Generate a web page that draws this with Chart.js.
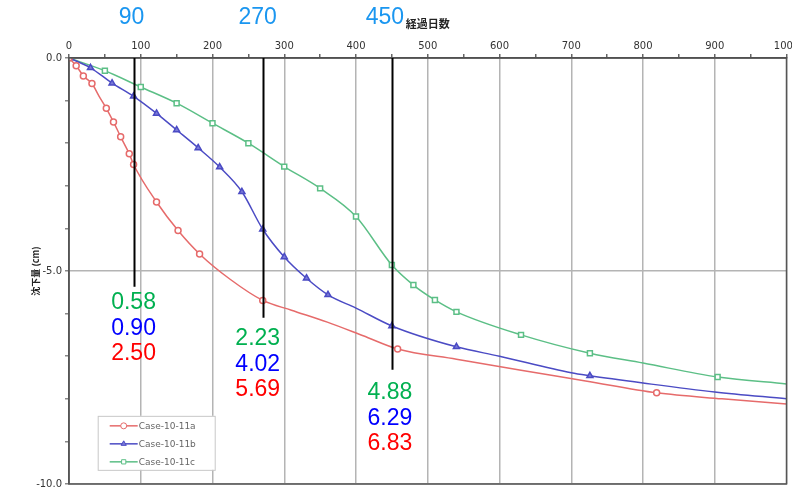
<!DOCTYPE html>
<html>
<head>
<meta charset="utf-8">
<script src="https://cdn.jsdelivr.net/npm/chart.js@4.4.1/dist/chart.umd.min.js"></script>
<style>
  html, body { margin: 0; padding: 0; background: #fff; }
  #wrap { width: 792px; height: 492px; }
</style>
</head>
<body>
<div id="wrap"><canvas id="settleChart" width="792" height="492"></canvas></div>
<script>
// 経過日数 (days) / 沈下量 (cm)
const daysA = [0, 10, 20, 32, 42, 52, 62, 72, 84, 90, 122, 152, 182, 225, 270, 310, 360, 410, 458, 540, 630, 720, 819, 910, 1000];
const caseA = [0, -0.18, -0.42, -0.6, -0.9, -1.18, -1.5, -1.85, -2.25, -2.5, -3.38, -4.05, -4.6, -5.2, -5.69, -5.92, -6.2, -6.52, -6.83, -7.07, -7.33, -7.58, -7.86, -8.0, -8.12];
const markA = [1, 1, 1, 1, 0, 1, 1, 1, 1, 1, 1, 1, 1, 0, 1, 0, 0, 0, 1, 0, 0, 0, 1, 0, 0];

const daysB = [0, 30, 60, 90, 122, 150, 180, 210, 241, 270, 300, 331, 361, 400, 450, 540, 600, 700, 726, 800, 900, 1000];
const caseB = [0, -0.23, -0.59, -0.9, -1.3, -1.69, -2.11, -2.56, -3.14, -4.02, -4.67, -5.17, -5.56, -5.87, -6.29, -6.78, -7.0, -7.39, -7.46, -7.63, -7.84, -8.0];
const markB = [1, 1, 1, 1, 1, 1, 1, 1, 1, 1, 1, 1, 1, 0, 1, 1, 0, 0, 1, 0, 0, 0];

const daysC = [0, 50, 100, 150, 200, 250, 300, 350, 400, 450, 480, 510, 540, 630, 726, 800, 904, 1000];
const caseC = [0, -0.3, -0.68, -1.06, -1.53, -2.0, -2.55, -3.06, -3.72, -4.86, -5.33, -5.68, -5.96, -6.5, -6.93, -7.16, -7.49, -7.65];
const markC = [1, 1, 1, 1, 1, 1, 1, 1, 1, 1, 1, 1, 1, 1, 1, 0, 1, 0];

const seriesLabels = ['Case-10-11a', 'Case-10-11b', 'Case-10-11c'];

// 注記 (annotation) days and read values
const markDays = [90, 270, 450];
const markLineEnd = [-5.37, -6.1, -7.32];
const noteC = ['0.58', '2.23', '4.88'];
const noteB = ['0.90', '4.02', '6.29'];
const noteA = ['2.50', '5.69', '6.83'];

const toPoints = (xs, ys) => xs.map((x, i) => ({ x: x, y: ys[i] }));

const RED = '#e66b6b', BLUE = '#4b4bc4', GREEN = '#5cbf86';

// frame + annotations + legend drawn on top
const overlayPlugin = {
    id: 'overlay',
    afterDraw(chart) {
        const { ctx, chartArea: a, scales: { x, y } } = chart;
        ctx.save();
        // frame
        ctx.strokeStyle = '#555';
        ctx.lineWidth = 1.5;
        ctx.strokeRect(a.left, a.top, a.right - a.left, a.bottom - a.top);

        // vertical marker lines
        ctx.strokeStyle = '#000';
        ctx.lineWidth = 2;
        markDays.forEach((d, i) => {
            const px = Math.round(x.getPixelForValue(d)) + 0.5;
            ctx.beginPath();
            ctx.moveTo(px, a.top);
            ctx.lineTo(px, y.getPixelForValue(markLineEnd[i]));
            ctx.stroke();
        });

        // top day labels
        ctx.font = '23px "Liberation Sans", Arial, sans-serif';
        ctx.textAlign = 'center';
        ctx.textBaseline = 'middle';
        ctx.fillStyle = '#1a96f0';
        const topShift = [-2, -5, -7];
        markDays.forEach((d, i) => {
            ctx.fillText(String(d), x.getPixelForValue(d) + topShift[i], 18);
        });

        // value notes under each line
        const noteShift = [0, -5, -2];
        const noteGap = [16, 21, 23];
        markDays.forEach((d, i) => {
            const cx = x.getPixelForValue(d) + noteShift[i];
            const y0 = y.getPixelForValue(markLineEnd[i]) + noteGap[i];
            ctx.fillStyle = '#00b050';
            ctx.fillText(noteC[i], cx, y0);
            ctx.fillStyle = '#0000ff';
            ctx.fillText(noteB[i], cx, y0 + 25.5);
            ctx.fillStyle = '#ff0000';
            ctx.fillText(noteA[i], cx, y0 + 51);
        });

        // legend box
        const lx = x.getPixelForValue(40), ly = y.getPixelForValue(-8.4);
        ctx.fillStyle = '#fff';
        ctx.fillRect(lx, ly, 117, 54);
        ctx.strokeStyle = '#c8c8c8';
        ctx.lineWidth = 1;
        ctx.strokeRect(lx + 0.5, ly + 0.5, 117, 54);
        ctx.font = '9px "DejaVu Sans", sans-serif';
        ctx.textAlign = 'left';
        chart.data.datasets.forEach((ds, i) => {
            const ry = ly + 10 + i * 18;
            ctx.strokeStyle = ds.borderColor;
            ctx.lineWidth = 1.5;
            ctx.beginPath();
            ctx.moveTo(lx + 12, ry);
            ctx.lineTo(lx + 40, ry);
            ctx.stroke();
            ctx.lineWidth = 1;
            ctx.fillStyle = ds.pointBackgroundColor;
            Chart.helpers.drawPoint(ctx, {
                pointStyle: ds.pointStyle, radius: 3, borderWidth: 1
            }, lx + 26, ry);
            ctx.fillStyle = '#666';
            ctx.fillText(ds.label, lx + 41, ry + 1);
        });
        ctx.restore();
    }
};

const ctx1 = document.getElementById('settleChart').getContext('2d');
const settleChart = new Chart(ctx1, {
    type: 'line',
    data: {
        datasets: [{
            label: seriesLabels[0],
            data: toPoints(daysA, caseA),
            borderColor: RED,
            backgroundColor: '#fff',
            pointBackgroundColor: '#fff',
            pointStyle: 'circle',
            pointRadius: markA.map(m => m ? 3 : 0),
            borderWidth: 1.5,
            cubicInterpolationMode: 'monotone'
        },
        {
            label: seriesLabels[1],
            data: toPoints(daysB, caseB),
            borderColor: BLUE,
            backgroundColor: BLUE,
            pointBackgroundColor: '#7a7ad8',
            pointStyle: 'triangle',
            pointRadius: markB.map(m => m ? 3.5 : 0),
            borderWidth: 1.5,
            cubicInterpolationMode: 'monotone'
        },
        {
            label: seriesLabels[2],
            data: toPoints(daysC, caseC),
            borderColor: GREEN,
            backgroundColor: '#fff',
            pointBackgroundColor: '#fff',
            pointStyle: 'rect',
            pointRadius: markC.map(m => m ? 3.5 : 0),
            borderWidth: 1.5,
            cubicInterpolationMode: 'monotone'
        }]
    },
    options: {
        responsive: false,
        animation: false,
        layout: {
            padding: { left: 0, right: 5, top: 0, bottom: 8 }
        },
        scales: {
            x: {
                type: 'linear',
                position: 'top',
                min: 0,
                max: 1000,
                afterFit: (scale) => {
                    scale.height = 58;
                    scale.paddingLeft = 0;
                    scale.paddingRight = 0;
                },
                ticks: {
                    stepSize: 50,
                    autoSkip: false,
                    maxRotation: 0,
                    padding: 2,
                    color: '#333',
                    font: { size: 10, family: '"DejaVu Sans", sans-serif' },
                    callback: (v) => v % 100 === 0 ? v : ''
                },
                grid: {
                    color: (c) => c.tick && c.tick.value % 100 === 0 ? '#b4b4b4' : 'rgba(0,0,0,0)',
                    tickColor: '#666',
                    tickLength: 4,
                    lineWidth: 1.5
                },
                border: { color: '#444', width: 1.5 },
                title: {
                    display: true,
                    text: '経過日数',
                    color: '#222',
                    padding: { top: 17, bottom: 0 },
                    font: { size: 11, weight: 'bold', family: '"Noto Sans CJK JP", sans-serif' }
                }
            },
            y: {
                type: 'linear',
                min: -10,
                max: 0,
                afterFit: (scale) => {
                    scale.width = 69;
                    scale.paddingTop = 0;
                    scale.paddingBottom = 0;
                },
                ticks: {
                    stepSize: 1,
                    autoSkip: false,
                    padding: 3,
                    color: '#333',
                    font: { size: 10, family: '"DejaVu Sans", sans-serif' },
                    callback: (v) => v % 5 === 0 ? v.toFixed(1) : ''
                },
                grid: {
                    color: (c) => c.tick && c.tick.value % 5 === 0 ? '#b4b4b4' : 'rgba(0,0,0,0)',
                    tickColor: '#888',
                    tickLength: 4,
                    lineWidth: 1.5
                },
                border: { color: '#555', width: 1.5 },
                title: {
                    display: true,
                    text: '沈下量 (cm)',
                    color: '#222',
                    padding: { top: 30, bottom: 0 },
                    font: { size: 9, weight: 'bold', family: '"Noto Sans CJK JP", sans-serif' }
                }
            }
        },
        plugins: {
            legend: { display: false },
            tooltip: { enabled: false }
        }
    },
    plugins: [overlayPlugin]
});
</script>
</body>
</html>
